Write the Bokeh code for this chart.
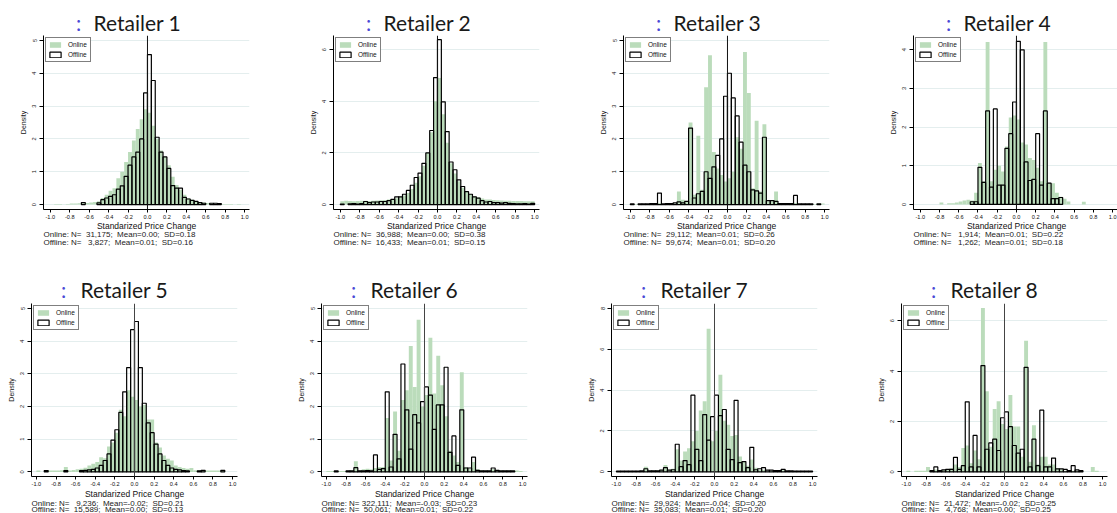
from bokeh.plotting import figure
from bokeh.models import Range1d, FixedTicker, Span, Legend, LegendItem
from bokeh.layouts import column, row
from bokeh.core.properties import value
from bokeh.embed import file_html
from bokeh.resources import INLINE

# ---------------- data ----------------
BIN_W = 0.04
bin_centers = [round(-0.98 + 0.04 * i, 2) for i in range(50)]

x_ticks = [-1.0, -0.8, -0.6, -0.4, -0.2, 0.0, 0.2, 0.4, 0.6, 0.8, 1.0]
x_tick_labels = ["-1.0", "-0.8", "-0.6", "-0.4", "-0.2", "0.0", "0.2", "0.4", "0.6", "0.8", "1.0"]

retailers = ["Retailer 1", "Retailer 2", "Retailer 3", "Retailer 4",
             "Retailer 5", "Retailer 6", "Retailer 7", "Retailer 8"]
x_label = "Standarized Price Change"
y_label = "Density"

online_1 = [0, .02, .02, 0, .02, .03, .03, .04, .04, .05, .06, .08, .1, .2, .3, .42, .5, .8, 1.0, 1.3,
            1.6, 1.95, 2.3, 2.6, 2.9, 2.8, 2.4, 2.0, 1.65, 1.45, 1.2, .85, .6, .45, .3, .2, .15, .1, .08, .06,
            .05, .04, .03, .03, .02, .02, .02, 0, .02, 0]
offline_1 = [0, 0, 0, 0, 0, 0, 0, 0, .06, 0, 0, 0, .05, .15, .2, .25, .3, .47, .57, .86,
             1.2, 1.45, 1.6, 2.0, 3.4, 4.57, 3.78, 2.05, 1.6, 1.45, 1.1, .58, .5, .5, .22, .17, .13, .1, .06, .04,
             0, .04, .04, .03, 0, 0, 0, 0, 0, 0]

online_2 = [.13, .15, .14, .13, .14, .15, .15, .14, .15, .16, .17, .18, .2, .22, .25, .3, .35, .45, .6, .85,
            1.1, 1.5, 2.0, 2.8, 4.0, 4.9, 3.5, 2.4, 1.6, 1.2, .9, .65, .5, .4, .32, .28, .24, .2, .2, .18,
            .17, .16, .15, .15, .14, .14, .14, .13, .13, .13]
offline_2 = [.02, 0, .03, .04, .02, .04, .12, .08, .1, .1, .12, .12, .15, .2, .3, .3, .4, .55, .75, 1.05,
             1.22, 1.6, 2.0, 2.87, 4.92, 6.39, 3.98, 2.83, 1.65, 1.35, .96, .7, .5, .4, .3, .25, .15, .1, .12, .08,
             .08, .06, .08, .05, .04, .03, .03, .04, .02, .05]

online_3 = [0, .02, 0, 0, 0, 0, .02, .05, .02, .03, .05, .03, .4, .15, .1, 2.5, .3, 2.1, .45, 3.57,
            4.55, 1.6, 1.1, .9, .7, .8, 1.0, 2.05, 1.7, 4.65, 3.4, .5, 2.55, .4, 2.45, .1, .1, .4, .05, .03,
            .03, .02, .05, .02, .02, .02, .02, .02, .03, .03]
offline_3 = [.02, 0, .02, .02, .02, .03, .03, .35, .02, .03, .03, .05, .08, .05, .1, 2.33, .2, .33, .4, 1.0,
             .8, 1.15, 1.5, 2.0, 3.3, 4.0, 3.25, 2.7, 1.9, 1.2, 1.0, .45, .42, .35, 2.05, .12, .12, .1, .03, .03,
             .03, .03, .28, .02, .02, .02, .02, 0, .02, 0]

online_4 = [0, 0, 0, 0, 0, .05, 0, .03, .03, .05, .08, .1, .12, .1, .3, 1.07, .6, 4.2, .6, .9,
            1.0, .85, 1.5, 2.25, 2.3, 2.2, 1.6, 1.55, 1.2, 1.15, .95, .6, 4.2, .55, .55, .3, .2, .15, .08, 0,
            0, 0, .07, 0, 0, 0, 0, 0, 0, 0]
offline_4 = [0, 0, 0, 0, 0, 0, 0, 0, 0, 0, 0, 0, 0, .07, .07, .96, .57, 2.42, .45, 2.47,
             .5, .5, 1.45, 1.83, 2.65, 4.22, 4.0, 1.1, .62, .65, 1.83, .5, 2.42, .55, .15, .15, .18, 0, 0, 0,
             0, 0, 0, 0, 0, 0, 0, 0, 0, 0]

online_5 = [.04, 0, .04, .04, .04, .04, .05, .15, .04, .06, .08, .1, .13, .2, .25, .3, .45, .42, .78, .9,
            1.2, 1.9, 1.7, 2.5, 2.3, 2.2, 2.0, 2.05, 1.6, 1.6, .9, .75, .5, .4, .35, .2, .15, .12, .1, .12,
            .05, .05, .04, .04, .04, .04, .04, .03, 0, 0]
offline_5 = [0, 0, .04, 0, 0, 0, 0, .04, 0, 0, 0, .04, .05, .06, .08, .12, .2, .35, .55, .97,
             1.29, 1.82, 2.45, 3.19, 4.35, 4.6, 3.19, 2.1, 1.5, 1.2, .85, .55, .35, .2, .12, .08, .06, .04, .03, 0,
             0, .03, .05, 0, 0, 0, 0, .05, 0, 0]

online_6 = [.03, .03, .03, .03, .03, .04, .05, .33, .05, .08, .1, .08, .12, .15, .15, 1.65, .35, 1.85, .65, 2.2,
            2.5, 3.85, 2.6, 4.65, 2.0, 2.35, 4.1, 2.4, 3.55, 2.65, 1.7, .65, .5, .3, 3.05, .15, .1, .3, .08, .05,
            .04, .04, .08, .04, .04, .04, .04, .04, .04, .03]
offline_6 = [0, 0, .03, 0, 0, .03, .03, .13, .03, .03, .04, .03, .52, .08, .1, 2.45, .15, 1.15, .4, 3.3,
             1.9, .7, 1.75, 1.5, 2.15, 2.6, 2.35, 1.3, 2.05, 2.05, 3.2, .6, 1.1, .2, 1.9, .12, .12, .45, .05, .03,
             .03, .03, .12, .05, .03, .03, .03, .03, 0, 0]

online_7 = [.03, .03, .03, .03, .03, .03, .05, .25, .05, .06, .08, .1, .33, .1, .15, 1.1, .55, 1.0, 1.15, 1.5,
            2.0, 3.0, 3.45, 7.0, 1.5, 2.0, 4.75, 2.5, 2.3, 1.75, 1.8, .75, .5, .3, .6, .2, .1, .1, .05, .05,
            .05, .05, .08, .03, .03, .03, .03, .03, .03, .03]
offline_7 = [.03, .03, .03, .03, .03, .04, .05, .15, .05, .05, .05, .08, .2, .08, .1, 1.35, .25, .55, .35, 3.75,
             1.1, .55, 2.8, 1.55, 2.7, 3.75, 2.75, 3.05, 1.1, .6, 3.5, .45, .5, .2, 1.2, .1, .15, .2, .08, .08,
             .06, .06, .12, .05, .05, .04, .04, .03, .03, .03]

online_8 = [.05, 0, .05, .05, .05, .2, .05, .1, .05, .08, .1, .15, .3, .2, .95, 1.05, .35, .85, .5, 6.5,
            3.2, 1.0, 2.5, 2.8, 1.9, 1.7, 3.05, 1.8, 1.8, .6, 5.2, .4, 1.85, .3, .6, .6, .3, .3, .15, .1,
            .05, .05, .05, .05, .05, 0, 0, .2, .05, 0]
offline_8 = [0, 0, 0, 0, 0, 0, .05, .2, .05, .08, .1, .1, .58, .1, .25, 2.78, .2, 1.45, .2, 4.22,
             .9, 1.15, 1.3, .85, 2.15, 2.38, 1.8, 1.05, .75, .9, 4.15, .2, 1.3, .25, 2.45, .2, .2, .55, .12, .12,
             .1, .05, .25, .08, .05, 0, 0, 0, 0, 0]

online_all = [online_1, online_2, online_3, online_4, online_5, online_6, online_7, online_8]
offline_all = [offline_1, offline_2, offline_3, offline_4, offline_5, offline_6, offline_7, offline_8]

y_starts = [-0.15, -0.19, -0.15, -0.13, -0.14, -0.14, -0.23, -0.18]
y_ends = [5.15, 6.55, 5.15, 4.37, 5.15, 5.15, 8.24, 6.68]
y_ticks_all = [[0, 1, 2, 3, 4, 5], [0, 2, 4, 6], [0, 1, 2, 3, 4, 5], [0, 1, 2, 3, 4],
               [0, 1, 2, 3, 4, 5], [0, 1, 2, 3, 4, 5], [0, 2, 4, 6, 8], [0, 2, 4, 6]]

online_stats = ["Online: N=  31,175;  Mean=0.00;  SD=0.18",
                "Online: N=  36,988;  Mean=0.00;  SD=0.38",
                "Online: N=  29,112;  Mean=0.01;  SD=0.26",
                "Online: N=   1,914;  Mean=0.01;  SD=0.22",
                "Online: N=   9,236;  Mean=-0.02;  SD=0.21",
                "Online: N= 322,111;  Mean=-0.03;  SD=0.23",
                "Online: N=  29,924;  Mean=-0.04;  SD=0.20",
                "Online: N=  21,472;  Mean=-0.02;  SD=0.25"]
offline_stats = ["Offline: N=   3,827;  Mean=0.01;  SD=0.16",
                 "Offline: N=  16,433;  Mean=0.01;  SD=0.15",
                 "Offline: N=  59,674;  Mean=0.01;  SD=0.20",
                 "Offline: N=   1,262;  Mean=0.01;  SD=0.18",
                 "Offline: N=  15,589;  Mean=0.00;  SD=0.13",
                 "Offline: N=  50,061;  Mean=0.01;  SD=0.22",
                 "Offline: N=  35,083;  Mean=0.01;  SD=0.20",
                 "Offline: N=   4,768;  Mean=0.00;  SD=0.25"]

# ---------------- style / geometry ----------------
GREEN = "#bbdcbb"
GRID = "#e4eeee"
FONT = "Liberation Sans"
TITLE_FONT = "Lato"
NB = "\u00a0"
TOTAL_W = 1117
COL_W = 290
FRAME_W = 206
ROW1 = dict(left=43, frame_h=175, bottom=11, xr=(-1.07, 1.05), col_dx=35, txt_dx=50)
ROW2 = dict(left=31, frame_h=174, bottom=11, xr=(-1.05, 1.05), col_dx=32, txt_dx=49)


def nbsp(s):
    return s.replace("  ", NB + NB).replace(NB + " ", NB + NB)


def make_panel(k, geo, last_col):
    w = TOTAL_W - 3 * COL_W if last_col else COL_W
    fw = min(FRAME_W, w - geo["left"])
    p = figure(width=w, height=geo["frame_h"] + geo["bottom"],
               x_range=Range1d(*geo["xr"]),
               y_range=Range1d(y_starts[k], y_ends[k]),
               output_backend="svg", toolbar_location=None,
               min_border_left=geo["left"], min_border_right=w - geo["left"] - fw,
               min_border_top=0, min_border_bottom=geo["bottom"])
    p.outline_line_color = None
    p.background_fill_color = "white"
    p.border_fill_color = "white"

    on = online_all[k]
    off = offline_all[k]
    xs_on = [c for c, v in zip(bin_centers, on) if v > 0]
    ys_on = [v for v in on if v > 0]
    xs_off = [c for c, v in zip(bin_centers, off) if v > 0]
    ys_off = [v for v in off if v > 0]

    r_on = p.vbar(x=xs_on, top=ys_on, bottom=0, width=BIN_W,
                  fill_color=GREEN, line_color=None)
    r_off = p.vbar(x=xs_off, top=ys_off, bottom=0, width=BIN_W,
                   fill_alpha=0, line_color="black", line_width=1.2)

    p.add_layout(Span(location=0, dimension="height",
                      line_color="#111" if k < 4 else "#444", line_width=1))

    p.xaxis.ticker = FixedTicker(ticks=x_ticks)
    p.xaxis.major_label_overrides = dict(zip(x_ticks, x_tick_labels))
    p.yaxis.ticker = FixedTicker(ticks=y_ticks_all[k])
    p.yaxis.major_label_orientation = "vertical"
    for ax in (p.xaxis[0], p.yaxis[0]):
        ax.axis_line_color = "black"
        ax.axis_line_width = 1
        ax.major_tick_line_color = "black"
        ax.minor_tick_line_color = None
        ax.major_tick_in = 0
        ax.major_label_text_font = FONT
        ax.major_label_text_font_size = "5.6px"
        ax.major_label_text_color = "#111"
        ax.axis_label_text_font = FONT
        ax.axis_label_text_font_style = "normal"
        ax.axis_label_text_color = "#111"
    p.xaxis.major_tick_out = 3
    p.xaxis.major_label_standoff = 2
    p.yaxis.major_tick_out = 4
    p.yaxis.major_label_standoff = 3
    p.yaxis.axis_label = y_label
    p.yaxis.axis_label_text_font_size = "7px"
    p.yaxis.axis_label_standoff = 3

    p.xgrid.visible = False
    p.ygrid.ticker = FixedTicker(ticks=y_ticks_all[k])
    p.ygrid.grid_line_color = GRID
    p.ygrid.grid_line_width = 1

    legend = Legend(items=[LegendItem(label="Online", renderers=[r_on]),
                           LegendItem(label="Offline", renderers=[r_off])],
                    location="top_left", margin=2, padding=2, spacing=1,
                    glyph_width=14, glyph_height=7, label_height=9,
                    label_standoff=6, label_text_font=FONT,
                    label_text_font_size="6.5px", label_text_color="#111",
                    border_line_color="black", border_line_width=1,
                    background_fill_color="white", background_fill_alpha=1)
    p.add_layout(legend)
    return p


def make_strip(h):
    s = figure(width=TOTAL_W, height=h, x_range=Range1d(0, TOTAL_W), y_range=Range1d(0, h),
               output_backend="svg", toolbar_location=None,
               min_border_left=0, min_border_right=0, min_border_top=0, min_border_bottom=0)
    s.axis.visible = False
    s.grid.visible = False
    s.outline_line_color = None
    s.background_fill_color = "white"
    s.border_fill_color = "white"
    return s


def add_titles(s, ks, geo, y):
    n = len(ks)
    xs_col = [COL_W * i + geo["left"] + geo["col_dx"] for i in range(n)]
    xs_txt = [COL_W * i + geo["left"] + geo["txt_dx"] for i in range(n)]
    s.text(x=xs_col, y=[y] * n, text=[":"] * n,
           text_font=value(TITLE_FONT), text_font_size=value("21px"),
           text_color="#4a4ad6", text_align="center", text_baseline="alphabetic")
    s.text(x=xs_txt, y=[y] * n, text=[retailers[k] for k in ks],
           text_font=value(TITLE_FONT), text_font_size=value("21px"),
           text_color="#1a1a1a", text_align="left", text_baseline="alphabetic")


def add_below(s, ks, geo, y_lab, y_s1, y_s2):
    n = len(ks)
    xs_c = [COL_W * i + geo["left"] + FRAME_W / 2 for i in range(n)]
    xs_l = [COL_W * i + geo["left"] for i in range(n)]
    s.text(x=xs_c, y=[y_lab] * n, text=[x_label] * n,
           text_font=value(FONT), text_font_size=value("8.5px"),
           text_color="#111", text_align="center", text_baseline="middle")
    s.text(x=xs_l, y=[y_s1] * n, text=[nbsp(online_stats[k]) for k in ks],
           text_font=value(FONT), text_font_size=value("8px"),
           text_color="#222", text_align="left", text_baseline="middle")
    s.text(x=xs_l, y=[y_s2] * n, text=[nbsp(offline_stats[k]) for k in ks],
           text_font=value(FONT), text_font_size=value("8px"),
           text_color="#222", text_align="left", text_baseline="middle")


top_ks = [0, 1, 2, 3]
bot_ks = [4, 5, 6, 7]

# strip A: page 0..35
strip_a = make_strip(35)
add_titles(strip_a, top_ks, ROW1, 13)

# row 1: page 35..221 ; strip B: page 221..303
strip_b = make_strip(82)
add_below(strip_b, top_ks, ROW1, 77.5, 68.7, 61.3)
add_titles(strip_b, bot_ks, ROW2, 14)

# row 2: page 303..488 ; strip C: page 488..513
strip_c = make_strip(25)
add_below(strip_c, bot_ks, ROW2, 20, 10.3, 4.4)

row_top = row([make_panel(k, ROW1, i == 3) for i, k in enumerate(top_ks)])
row_bot = row([make_panel(k, ROW2, i == 3) for i, k in enumerate(bot_ks)])

layout = column(strip_a, row_top, strip_b, row_bot, strip_c)

open("out.html", "w").write(file_html(layout, INLINE))
